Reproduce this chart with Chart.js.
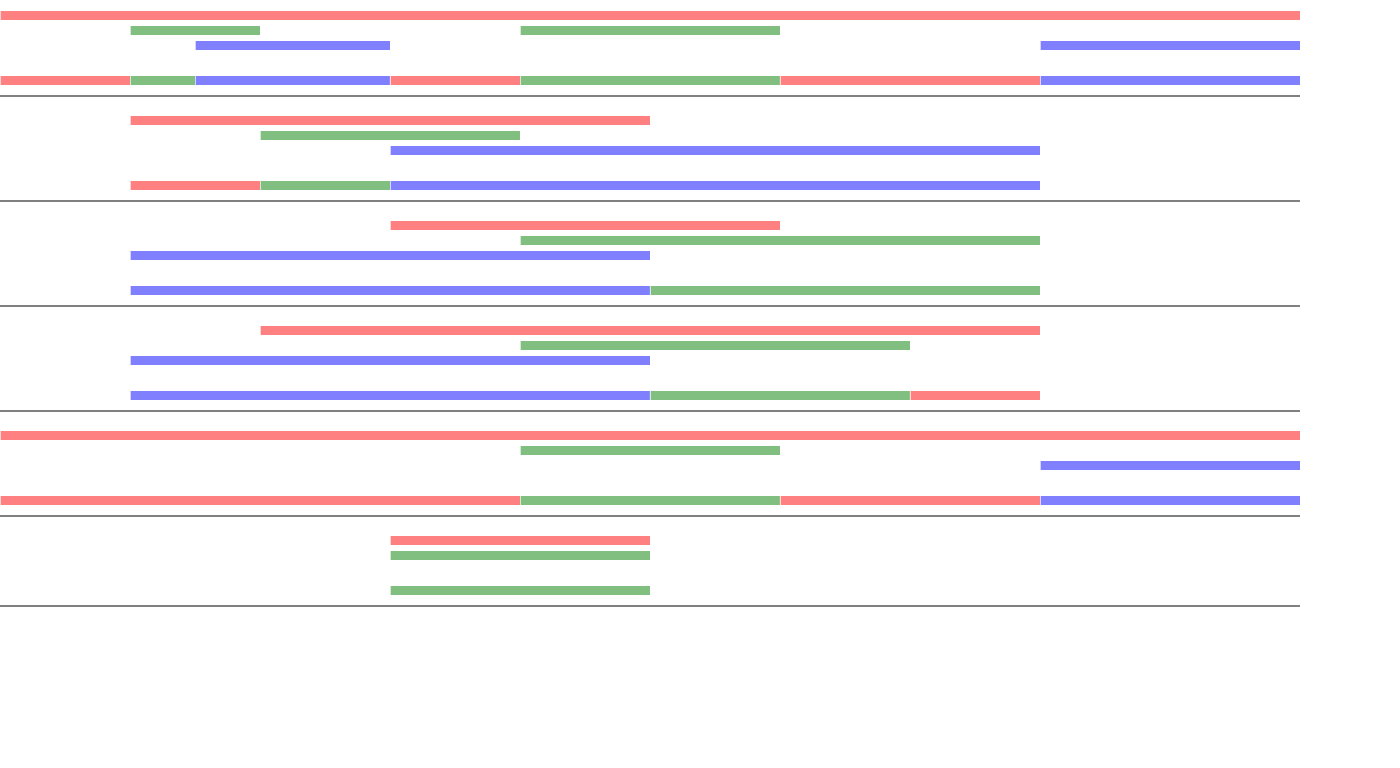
<!DOCTYPE html>
<html>
<head>
<meta charset="utf-8">
<script src="https://cdn.jsdelivr.net/npm/chart.js@4/dist/chart.umd.min.js"></script>
<style>
html,body{margin:0;padding:0;background:#fff;}
#wrap{width:1400px;height:768px;position:relative;}
</style>
</head>
<body>
<div id="wrap"><canvas id="c"></canvas></div>
<script>
// ---- data (time units 0..20) ----
const groups = ['G1', 'G2', 'G3', 'G4', 'G5', 'G6'];
const seriesNames = ['red', 'green', 'blue'];
const redIntervals   = [[[0, 20]], [[2, 10]], [[6, 12]], [[4, 16]], [[0, 20]], [[6, 10]]];
const greenIntervals = [[[2, 4], [8, 12]], [[4, 8]], [[8, 16]], [[8, 14]], [[8, 12]], [[6, 10]]];
const blueIntervals  = [[[3, 6], [16, 20]], [[6, 16]], [[2, 10]], [[2, 10]], [[16, 20]], []];
const timeMin = 0;
const timeMax = 20;

// ---- styles ----
const colors = ['#ff8080', '#80bf80', '#8080ff'];
const allSeries = [redIntervals, greenIntervals, blueIntervals];

// ---- layout (pixel rows) ----
const firstTop = -9, trackOffset = 24.5, trackStep = 15, combinedGap = 35, groupTail = 15.5;

const datasets = seriesNames.map((n, i) => ({
  label: n, data: [], backgroundColor: colors[i], borderColor: '#ffffff',
  borderWidth: {left: 1, right: 0, top: 0, bottom: 0}, borderSkipped: false,
  barThickness: 9
}));
const separators = [];
let groupTop = firstTop;
groups.forEach((g, gi) => {
  let y = groupTop + trackOffset;
  let lastTrack = null;
  allSeries.forEach((s, si) => {
    const iv = s[gi];
    if (!iv.length) return;
    iv.forEach(([a, b]) => datasets[si].data.push({x: [a, b], y: y}));
    lastTrack = y;
    y += trackStep;
  });
  const cy = lastTrack + combinedGap;
  // combined row: priority blue > green > red
  const pts = new Set();
  allSeries.forEach(s => s[gi].forEach(([a, b]) => { pts.add(a); pts.add(b); }));
  const sorted = [...pts].sort((a, b) => a - b);
  let segs = [];
  for (let k = 0; k < sorted.length - 1; k++) {
    const a = sorted[k], b = sorted[k + 1], m = (a + b) / 2;
    let win = -1;
    for (let si = allSeries.length - 1; si >= 0; si--) {
      if (allSeries[si][gi].some(([p, q]) => m > p && m < q)) { win = si; break; }
    }
    if (win < 0) continue;
    const last = segs[segs.length - 1];
    if (last && last.s === win && last.b === a) last.b = b;
    else segs.push({s: win, a: a, b: b});
  }
  segs.forEach(sg => datasets[sg.s].data.push({x: [sg.a, sg.b], y: cy}));
  const end = cy + groupTail;
  separators.push(end);
  groupTop = end;
});

new Chart(document.getElementById('c'), {
  type: 'bar',
  data: {datasets: datasets},
  options: {
    indexAxis: 'y',
    responsive: true,
    maintainAspectRatio: false,
    animation: false,
    grouped: false,
    layout: {padding: {left: 0, right: 100, top: 0, bottom: 0}},
    plugins: {legend: {display: false}, tooltip: {enabled: false}},
    scales: {
      x: {type: 'linear', min: timeMin, max: timeMax, display: false, offset: false},
      y: {
        type: 'linear', min: 0, max: 768, reverse: true, offset: false,
        ticks: {display: false},
        border: {display: false},
        grid: {color: '#808080', lineWidth: 2, drawTicks: false, offset: false},
        afterBuildTicks: s => { s.ticks = separators.map(v => ({value: v})); },
        afterFit: s => { s.width = 0; }
      }
    }
  }
});
</script>
</body>
</html>
